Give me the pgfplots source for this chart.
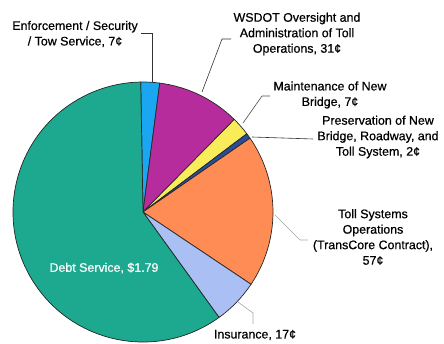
\documentclass[border=0pt]{standalone}
\usepackage{pgfplots}
\usepackage{pgfplotstable}
\pgfplotsset{compat=1.18}
\usepackage{fontspec}
\setmainfont{Liberation Sans}[FakeBold=0.6]
\definecolor{slice0}{RGB}{26,166,240}
\definecolor{slice1}{RGB}{182,44,156}
\definecolor{slice2}{RGB}{248,236,90}
\definecolor{slice3}{RGB}{43,76,155}
\definecolor{slice4}{RGB}{255,140,84}
\definecolor{slice5}{RGB}{170,192,245}
\definecolor{slice6}{RGB}{29,168,144}
\pgfplotstableread{
label value
Enforcement 7
WSDOT 31
Maintenance 7
Preservation 2
TollSystems 57
Insurance 17
DebtService 179
}\slices
\begin{document}
\begin{tikzpicture}
\begin{axis}[
  at={(0,0)}, anchor=south west,
  x=1bp, y=1bp,
  xmin=0, xmax=444, ymin=0, ymax=344,
  hide axis, clip=false,
  font=\fontsize{12.4bp}{15.5bp}\selectfont,
]
\pgfplotsextra{
  \xdef\curang{91}
  \pgfplotstablegetrowsof{\slices}
  \pgfmathtruncatemacro\N{\pgfplotsretval-1}
  \foreach \i in {0,...,\N}{
    \pgfplotstablegetelem{\i}{value}\of\slices
    \pgfmathsetmacro\sweep{\pgfplotsretval/300*360}
    \pgfmathsetmacro\endang{\curang-\sweep}
    \fill[slice\i, draw=black!85, line width=0.7pt, line join=round]
      (axis cs:143,132) -- ++(\curang:130bp)
      arc[start angle=\curang, end angle=\endang, radius=130bp] -- cycle;
    \xdef\curang{\endang}
  }
}
% leader lines
\draw[black!80, line width=0.6pt] (axis cs:141,311) -- (axis cs:152,311) -- (axis cs:152,262);
\draw[black!80, line width=0.6pt] (axis cs:202,252) -- (axis cs:222,305) -- (axis cs:231,305);
\draw[black!70, line width=0.6pt] (axis cs:243,221) -- (axis cs:262,248) -- (axis cs:270,248);
\draw[black!80, line width=0.6pt] (axis cs:252,207) -- (axis cs:313,205);
\draw[black!35, line width=0.6pt] (axis cs:275,129) -- (axis cs:300,104) -- (axis cs:308,104);
\draw[black!35, line width=0.6pt] (axis cs:238,42) -- (axis cs:253,31) -- (axis cs:253,20);
% labels
\node[align=center] at (axis cs:75,310) {Enforcement / Security\\/ Tow Service, 7¢};
\node[align=center] at (axis cs:297,310) {WSDOT Oversight and\\Administration of Toll\\Operations, 31¢};
\node[align=center] at (axis cs:330,249) {Maintenance of New\\Bridge, 7¢};
\node[align=center] at (axis cs:378,207) {Preservation of New\\Bridge, Roadway, and\\Toll System, 2¢};
\node[align=center] at (axis cs:373,107) {Toll Systems\\Operations\\(TransCore Contract),\\57¢};
\node[align=center] at (axis cs:255,9) {Insurance, 17¢};
\node[align=center, text=white] at (axis cs:104,76) {Debt Service, \$1.79};
\end{axis}
\pgfresetboundingbox
\path[use as bounding box] (0,0) rectangle (444bp,344bp);
\end{tikzpicture}
\end{document}
